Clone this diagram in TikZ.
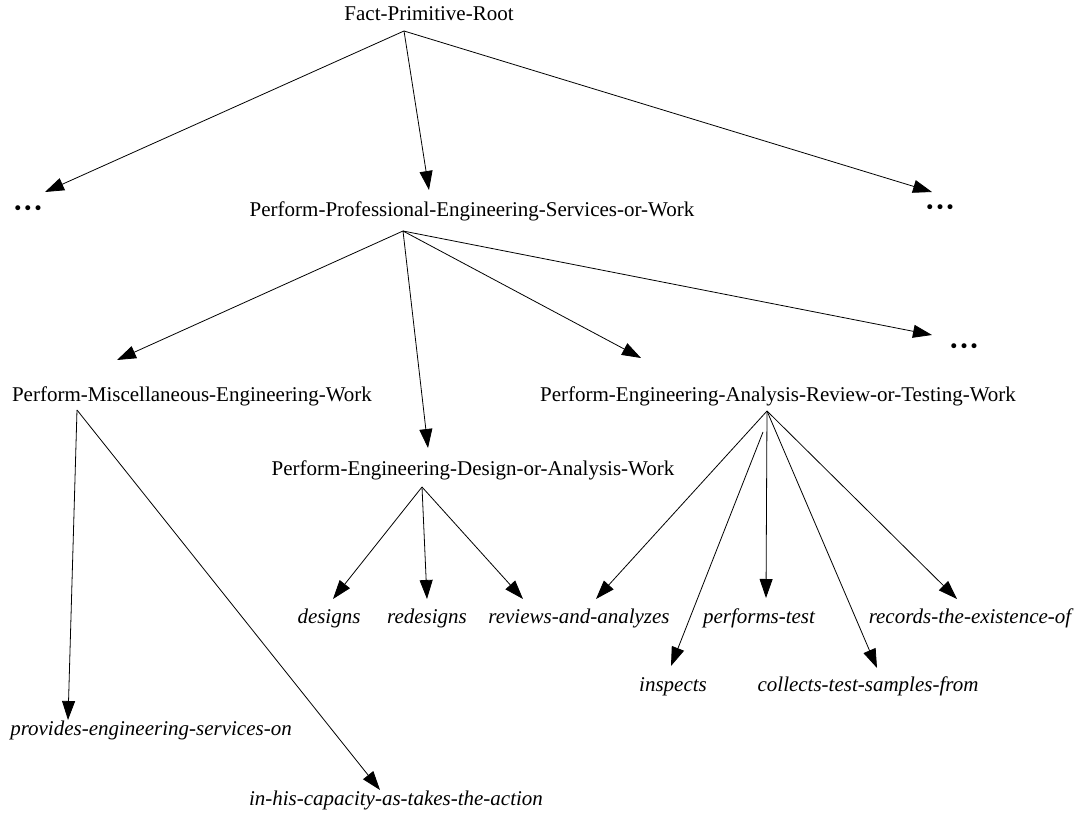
\documentclass[tikz,border=0pt]{standalone}
\usepackage{fontspec}
\setmainfont{Liberation Serif}
\newfontfamily\dotfont{DejaVu Sans}
\usetikzlibrary{arrows.meta}
\begin{document}
\begin{tikzpicture}[x=1pt,y=-1pt,
  lbl/.style={inner sep=0pt,anchor=base,font=\fontsize{21}{25}\selectfont},
  leaf/.style={lbl,font=\fontsize{21}{25}\selectfont\itshape},
  more/.style={inner sep=0pt,anchor=center,font=\dotfont\fontsize{17}{20}\selectfont},
  edge/.style={line width=0.8pt,-{Triangle[length=19pt,width=13pt]}}]
\useasboundingbox (0,0) rectangle (1081,813);
% nodes
\node[lbl] (root) at (429,21) {Fact-Primitive-Root};
\node[more] (dl) at (28,210) {•••};
\node[lbl] (ppesw) at (472,216) {Perform-Professional-Engineering-Services-or-Work};
\node[more] (dr) at (940,209) {•••};
\node[lbl] (pmew) at (192,401) {Perform-Miscellaneous-Engineering-Work};
\node[lbl] (peartw) at (778,401) {Perform-Engineering-Analysis-Review-or-Testing-Work};
\node[more] (d2) at (964,348) {•••};
\node[lbl] (pedaw) at (473,475) {Perform-Engineering-Design-or-Analysis-Work};
\node[leaf] (designs) at (329,623) {designs};
\node[leaf] (redesigns) at (427,623) {redesigns};
\node[leaf] (reviews) at (579,623) {reviews-and-analyzes};
\node[leaf] (performs) at (759,623) {performs-test};
\node[leaf] (records) at (970,623) {records-the-existence-of};
\node[leaf] (inspects) at (673,691) {inspects};
\node[leaf] (collects) at (868,691) {collects-test-samples-from};
\node[leaf] (provides) at (151,735) {provides-engineering-services-on};
\node[leaf] (inhis) at (396,805) {in-his-capacity-as-takes-the-action};
% tail points
\coordinate (rootT) at (404,31);
\coordinate (ppeswT) at (403,231);
\coordinate (pmewT) at (77,410);
\coordinate (pedawT) at (422,487);
\coordinate (peartwT) at (767,411);
\coordinate (peartwT2) at (763,432);
% tip points
\coordinate (dlH) at (45,192);
\coordinate (ppeswH) at (429,190);
\coordinate (drH) at (932,192);
\coordinate (pmewH) at (117,360);
\coordinate (pedawH) at (428,448);
\coordinate (peartwH) at (641,358);
\coordinate (d2H) at (932,335);
\coordinate (providesH) at (68,720);
\coordinate (inhisH) at (380,790);
\coordinate (designsH) at (333,599);
\coordinate (redesignsH) at (427,599);
\coordinate (reviewsH1) at (523,599);
\coordinate (reviewsH2) at (596,599);
\coordinate (inspectsH) at (671,666);
\coordinate (performsH) at (766,598);
\coordinate (collectsH) at (877,668);
\coordinate (recordsH) at (957,599);
% edges
\draw[edge] (rootT) -- (dlH);
\draw[edge] (rootT) -- (ppeswH);
\draw[edge] (rootT) -- (drH);
\draw[edge] (ppeswT) -- (pmewH);
\draw[edge] (ppeswT) -- (pedawH);
\draw[edge] (ppeswT) -- (peartwH);
\draw[edge] (ppeswT) -- (d2H);
\draw[edge] (pmewT) -- (providesH);
\draw[edge] (pmewT) -- (inhisH);
\draw[edge] (pedawT) -- (designsH);
\draw[edge] (pedawT) -- (redesignsH);
\draw[edge] (pedawT) -- (reviewsH1);
\draw[edge] (peartwT) -- (reviewsH2);
\draw[edge] (peartwT2) -- (inspectsH);
\draw[edge] (peartwT) -- (performsH);
\draw[edge] (peartwT) -- (collectsH);
\draw[edge] (peartwT) -- (recordsH);
\end{tikzpicture}
\end{document}
